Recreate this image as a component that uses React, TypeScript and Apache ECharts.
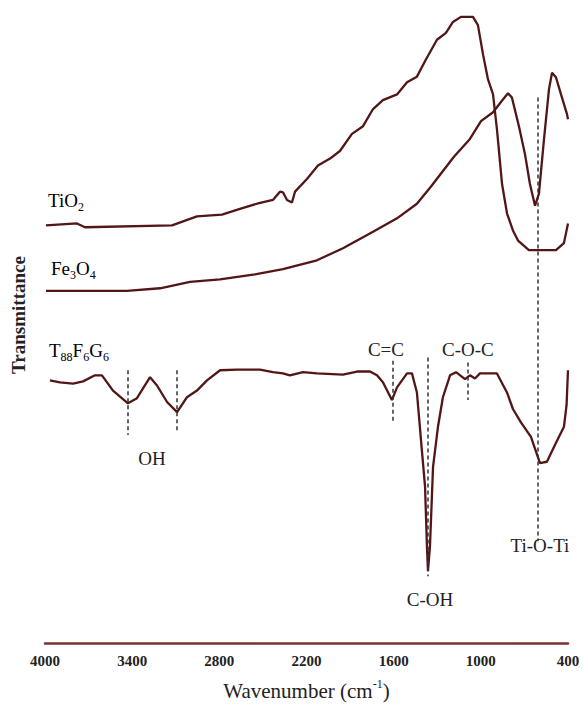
import React, { useEffect, useRef } from "react";
import * as echarts from "echarts";

// x-axis tick labels (wavenumber, cm-1)
const wavenumberTicks = [4000, 3400, 2800, 2200, 1600, 1000, 400];

// TiO2 spectrum (wavenumber, transmittance a.u.)
const tio2Wn = [3993, 3780, 3725, 3126, 2954, 2782, 2658, 2541, 2431, 2383, 2362, 2334, 2300, 2279, 2197, 2121, 2038, 1970, 1887, 1811, 1742, 1674, 1577, 1508, 1440, 1378, 1302, 1240, 1192, 1137, 1054, 1020, 985, 951, 916, 889, 854, 820, 779, 744, 669, 483, 428, 400];
const tio2T = [65.8, 66.1, 65.5, 65.8, 67.2, 67.5, 68.4, 69.2, 69.8, 71.1, 71.0, 69.8, 69.4, 71.1, 73.1, 75.2, 76.3, 77.5, 80.2, 81.4, 84.1, 85.5, 86.4, 88.3, 89.2, 91.9, 95.0, 96.1, 97.8, 98.6, 98.6, 97.3, 92.7, 88.8, 86.4, 80.9, 72.3, 67.7, 65.0, 63.4, 61.9, 61.9, 63.0, 66.1];

// Fe3O4 spectrum
const fe3o4Wn = [3993, 3436, 3208, 3002, 2795, 2555, 2362, 2128, 1949, 1742, 1577, 1440, 1343, 1185, 1075, 999, 916, 848, 813, 786, 737, 696, 662, 627, 600, 565, 531, 510, 483, 448, 407, 400];
const fe3o4T = [55.5, 55.5, 55.9, 56.9, 57.3, 58.1, 58.9, 60.3, 62.2, 64.8, 66.9, 69.2, 71.9, 76.6, 79.4, 82.2, 83.6, 85.6, 86.6, 85.9, 81.3, 77.0, 72.3, 68.9, 70.8, 79.4, 87.2, 89.8, 89.1, 86.4, 83.3, 82.5];

// T88F6G6 spectrum
const tfgWn = [3966, 3897, 3807, 3738, 3656, 3608, 3573, 3532, 3429, 3367, 3277, 3229, 3160, 3091, 3023, 2954, 2885, 2795, 2678, 2520, 2431, 2362, 2314, 2224, 2128, 1949, 1852, 1763, 1715, 1674, 1612, 1577, 1508, 1474, 1440, 1405, 1384, 1371, 1364, 1350, 1329, 1295, 1261, 1212, 1171, 1109, 1075, 1040, 1006, 889, 820, 779, 724, 655, 593, 545, 490, 428, 410, 400];
const tfgT = [41.4, 41.1, 40.9, 41.25, 42.2, 42.2, 41.1, 39.8, 37.8, 38.6, 41.9, 40.6, 38.0, 36.4, 38.75, 39.8, 41.4, 43.0, 43.1, 43.1, 42.7, 42.5, 42.2, 42.7, 42.5, 42.3, 42.8, 42.8, 42.2, 41.1, 38.3, 40.3, 42.5, 42.5, 39.5, 30.2, 24.7, 15.3, 11.4, 15.3, 27.8, 34.1, 38.75, 42.2, 42.7, 41.6, 42.2, 41.7, 42.5, 42.5, 39.5, 36.9, 34.8, 32.5, 28.4, 28.6, 31.25, 34.1, 37.5, 43.0];

// band assignments: dashed marker lines (wavenumber, from T, to T)
const bandWn = [3429, 3091, 1605, 1364, 1089, 610];
const bandTop = [43.0, 43.0, 44.5, 45.0, 44.2, 85.9];
const bandBottom = [32.8, 33.3, 34.8, 10.6, 38.3, 16.1];

// band labels
const bandLabels = ["OH", "C=C", "C-O-C", "C-OH", "Ti-O-Ti"];
const bandLabelWn = [3264, 1653, 1089, 1350, 593];
const bandLabelT = [29.1, 46.3, 46.3, 7.0, 15.4];

const SERIF = "Liberation Serif";
const LINE_COLOR = "#521616";

const zip = (xs: number[], ys: number[]) => xs.map((x, i) => [x, ys[i]]);

export default function App() {
  const ref = useRef<HTMLDivElement>(null);

  useEffect(() => {
    const chart = echarts.init(ref.current!, null, { renderer: "svg" });
    const subRich = {
      s: { fontSize: 12, fontFamily: SERIF, color: "#222", verticalAlign: "bottom", lineHeight: 25 },
      n: { fontSize: 19, fontFamily: SERIF, color: "#222", lineHeight: 22 },
    };
    chart.setOption({
      animation: false,
      backgroundColor: "#ffffff",
      textStyle: { fontFamily: SERIF },
      grid: { left: 45, right: 15, top: 8, bottom: 58 },
      xAxis: {
        type: "value",
        inverse: true,
        min: 400,
        max: 4000,
        name: "Wavenumber (cm{sup|-1})",
        nameLocation: "middle",
        nameGap: 34,
        nameTextStyle: {
          fontFamily: SERIF,
          fontSize: 21,
          color: "#222",
          rich: {
            sup: { fontFamily: SERIF, fontSize: 12, color: "#222", verticalAlign: "top", lineHeight: 26 },
          },
        },
        axisLine: { show: true, lineStyle: { color: "#7a3232", width: 2.5 } },
        axisTick: { show: false },
        splitLine: { show: false },
        axisLabel: {
          customValues: wavenumberTicks,
          formatter: (v: number) => String(v),
          margin: 10,
          fontFamily: SERIF,
          fontWeight: "bold",
          fontSize: 15,
          color: "#222",
          showMinLabel: true,
          showMaxLabel: true,
        },
      },
      yAxis: {
        type: "value",
        min: 0,
        max: 100,
        axisLine: { show: false },
        axisTick: { show: false },
        axisLabel: { show: false },
        splitLine: { show: false },
      },
      graphic: [
        {
          type: "text",
          x: 18,
          y: 315,
          rotation: Math.PI / 2,
          style: {
            text: "Transmittance",
            fontFamily: SERIF,
            fontWeight: "bold",
            fontSize: 19,
            fill: "#222",
            align: "center",
            verticalAlign: "middle",
          },
        },
        {
          type: "text",
          x: 48,
          y: 188,
          style: { text: "{n|TiO}{s|2}", rich: subRich },
        },
        {
          type: "text",
          x: 51,
          y: 256,
          style: { text: "{n|Fe}{s|3}{n|O}{s|4}", rich: subRich },
        },
        {
          type: "text",
          x: 49,
          y: 338,
          style: { text: "{n|T}{s|88}{n|F}{s|6}{n|G}{s|6}", rich: subRich },
        },
      ],
      series: [
        {
          name: "TiO2",
          type: "line",
          showSymbol: false,
          data: zip(tio2Wn, tio2T),
          lineStyle: { color: LINE_COLOR, width: 2.3 },
        },
        {
          name: "Fe3O4",
          type: "line",
          showSymbol: false,
          data: zip(fe3o4Wn, fe3o4T),
          lineStyle: { color: LINE_COLOR, width: 2.3 },
        },
        {
          name: "T88F6G6",
          type: "line",
          showSymbol: false,
          data: zip(tfgWn, tfgT),
          lineStyle: { color: LINE_COLOR, width: 2.3 },
          markLine: {
            silent: true,
            symbol: ["none", "none"],
            label: { show: false },
            lineStyle: { color: "#333", width: 1.5, type: [4, 3] },
            data: bandWn.map((w, i) => [
              { coord: [w, bandTop[i]] },
              { coord: [w, bandBottom[i]] },
            ]),
          },
          markPoint: {
            silent: true,
            symbol: "circle",
            symbolSize: 1,
            itemStyle: { color: "rgba(0,0,0,0)" },
            label: {
              show: true,
              position: "inside",
              formatter: (p: any) => p.name,
              fontFamily: SERIF,
              fontSize: 19,
              color: "#222",
            },
            data: bandLabels.map((name, i) => ({
              name,
              coord: [bandLabelWn[i], bandLabelT[i]],
            })),
          },
        },
      ],
    });
    return () => chart.dispose();
  }, []);

  return (
    <div
      ref={ref}
      style={{ position: "fixed", left: 0, top: 0, width: 583, height: 706 }}
    />
  );
}
